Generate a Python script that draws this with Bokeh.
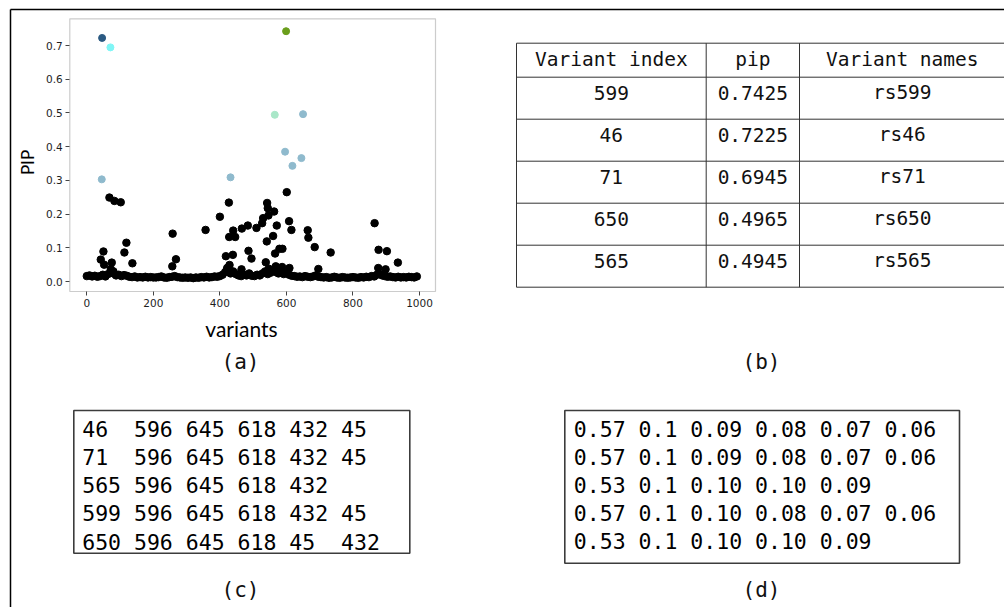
import math
from bokeh.plotting import figure
from bokeh.models import Range1d, LinearAxis, FixedTicker, PrintfTickFormatter, BoxAnnotation
from bokeh.core.properties import value
from bokeh.embed import file_html
from bokeh.resources import INLINE

# ---------------- data ----------------
# baseline band of PIPs, one value per every 8th variant (0, 8, ..., 992)
base_step = 8
base_values = [
    0.016, 0.018, 0.015, 0.017, 0.014, 0.016,
    0.020, 0.015, 0.022, 0.028, 0.024, 0.018, 0.020, 0.016, 0.019, 0.017,
    0.014, 0.013, 0.015, 0.012, 0.013, 0.012, 0.014, 0.012, 0.013, 0.012,
    0.012, 0.013, 0.015, 0.012, 0.011, 0.013, 0.014, 0.016, 0.013, 0.012, 0.011, 0.012,
    0.011, 0.012, 0.010, 0.012, 0.011, 0.013, 0.012, 0.014, 0.012, 0.013, 0.015, 0.014, 0.016,
    0.020, 0.028, 0.040, 0.024, 0.030, 0.022, 0.018, 0.016, 0.020, 0.018, 0.024, 0.017, 0.016,
    0.020, 0.018, 0.024, 0.030, 0.022, 0.026, 0.035, 0.028, 0.024, 0.030, 0.022, 0.025,
    0.020, 0.017, 0.016, 0.014, 0.015, 0.013, 0.016, 0.014, 0.013, 0.015, 0.018, 0.014, 0.013,
    0.012, 0.013, 0.011, 0.012, 0.014, 0.012, 0.011, 0.013, 0.012, 0.011, 0.012, 0.013,
    0.012, 0.011, 0.013, 0.012, 0.014, 0.013, 0.016, 0.015, 0.020, 0.022, 0.018, 0.016,
    0.014, 0.015, 0.013, 0.012, 0.014, 0.012, 0.013, 0.012, 0.014, 0.013, 0.012, 0.015,
]
base_idx = list(range(0, base_step * len(base_values), base_step))

# variants that stand out from the band (black)
outlier_idx = [68, 83, 102, 50, 42, 52, 75, 72, 80, 119, 113, 137,
               258, 257, 268, 357, 400, 427, 428, 440, 446, 418, 439, 429, 422,
               466, 484, 486, 495, 465, 510, 530, 527, 542, 544, 546, 563, 541,
               560, 571, 538, 566, 579, 588, 547, 568, 587, 609, 601, 608, 615,
               664, 666, 685, 696, 733, 865, 877, 876, 902, 898, 935]
outlier_pip = [0.249, 0.239, 0.235, 0.089, 0.065, 0.050, 0.056, 0.037, 0.030, 0.115, 0.086, 0.054,
               0.142, 0.045, 0.066, 0.153, 0.192, 0.234, 0.132, 0.151, 0.132, 0.075, 0.079, 0.049, 0.040,
               0.157, 0.166, 0.091, 0.068, 0.036, 0.159, 0.188, 0.173, 0.233, 0.2175, 0.196, 0.2076, 0.119,
               0.135, 0.166, 0.057, 0.083, 0.097, 0.097, 0.038, 0.045, 0.043, 0.040, 0.265, 0.179, 0.153,
               0.152, 0.130, 0.102, 0.037, 0.086, 0.173, 0.094, 0.040, 0.090, 0.036, 0.056]

# credible-set members (light blue)
cs_idx = [596, 645, 618, 432, 45]
cs_pip = [0.385, 0.366, 0.343, 0.309, 0.303]

# lead variants
lead_idx = [46, 71, 599, 565, 650]
lead_pip = [0.7225, 0.6945, 0.7425, 0.4945, 0.4965]
lead_colors = ["#2b5a82", "#80f6f6", "#6a9e1c", "#a9e7c8", "#8fbacd"]
cs_color = "#8fbacd"

x_ticks = [0, 200, 400, 600, 800, 1000]
y_ticks = [0.0, 0.1, 0.2, 0.3, 0.4, 0.5, 0.6, 0.7]

table_header = ["Variant index", "pip", "Variant names"]
table_index = ["599", "46", "71", "650", "565"]
table_pip = ["0.7425", "0.7225", "0.6945", "0.4965", "0.4945"]
table_names = ["rs599", "rs46", "rs71", "rs650", "rs565"]

cs_rows = [["46", "596", "645", "618", "432", "45"],
           ["71", "596", "645", "618", "432", "45"],
           ["565", "596", "645", "618", "432"],
           ["599", "596", "645", "618", "432", "45"],
           ["650", "596", "645", "618", "45", "432"]]
prob_rows = [["0.57", "0.1", "0.09", "0.08", "0.07", "0.06"],
             ["0.57", "0.1", "0.09", "0.08", "0.07", "0.06"],
             ["0.53", "0.1", "0.10", "0.10", "0.09"],
             ["0.57", "0.1", "0.10", "0.08", "0.07", "0.06"],
             ["0.53", "0.1", "0.10", "0.10", "0.09"]]
captions = ["(a)", "(b)", "(c)", "(d)"]

# ---------------- layout (pixels) ----------------
W, H = 1004, 607
X0, KX = 86.3, 0.3327      # pixel of variant 0, px per variant
Y0, KY = 281.0, 337.1      # pixel of PIP 0, px per PIP unit
FL, FR, FT, FB = 69.3, 435.0, 18.3, 291.0   # scatter frame box

p = figure(width=W, height=H, x_range=Range1d(0, W), y_range=Range1d(H, 0),
           x_axis_type=None, y_axis_type=None, toolbar_location=None,
           output_backend="svg", min_border=0, outline_line_color=None,
           background_fill_color="white", border_fill_color="white")

p.extra_x_ranges = {"sx": Range1d((0 - X0) / KX, (W - X0) / KX)}
p.extra_y_ranges = {"sy": Range1d((Y0 - H) / KY, Y0 / KY)}
x_lo, x_hi = (FL - X0) / KX, (FR - X0) / KX
y_lo, y_hi = (Y0 - FB) / KY, (Y0 - FT) / KY

# outer frame
p.segment(x0=[10, 10], y0=[9, 9], x1=[W + 2, 10], y1=[9, H + 2], line_color="black", line_width=1.5)

# scatter (a)
p.scatter(base_idx, base_values, size=7.5, color="black", x_range_name="sx", y_range_name="sy")
p.scatter(outlier_idx, outlier_pip, size=7.5, color="black", x_range_name="sx", y_range_name="sy")
p.scatter(cs_idx, cs_pip, size=7, color=cs_color, x_range_name="sx", y_range_name="sy")
p.scatter(lead_idx, lead_pip, size=7, color=lead_colors, x_range_name="sx", y_range_name="sy")

p.add_layout(BoxAnnotation(left=x_lo, right=x_hi, bottom=y_lo, top=y_hi,
                           x_range_name="sx", y_range_name="sy",
                           fill_alpha=0, line_color="#555555", line_width=1.2))

xa = LinearAxis(x_range_name="sx", y_range_name="sy", fixed_location=y_lo, bounds=(x_lo, x_hi),
                ticker=FixedTicker(ticks=x_ticks), formatter=PrintfTickFormatter(format="%d"))
ya = LinearAxis(x_range_name="sx", y_range_name="sy", fixed_location=x_lo, bounds=(y_lo, y_hi),
                ticker=FixedTicker(ticks=y_ticks), formatter=PrintfTickFormatter(format="%.1f"))
for ax in (xa, ya):
    ax.axis_line_color = None
    ax.major_tick_in = 0
    ax.major_tick_out = 4
    ax.major_tick_line_color = "#444444"
    ax.minor_tick_line_color = None
    ax.major_label_text_font = "DejaVu Sans"
    ax.major_label_text_font_size = "10.5px"
    ax.major_label_text_color = "#1e1e1e"
    ax.major_label_standoff = 3
p.add_layout(xa, "below")
p.add_layout(ya, "left")

p.text(x=[241], y=[328], text=["variants"], text_font=value("Lato"), text_font_size="21px",
       text_align="center", text_baseline="alphabetic", text_color="black")
p.text(x=[27], y=[162], text=["PIP"], text_font=value("Lato"), text_font_size="17px",
       text_align="center", text_baseline="middle", angle=math.pi / 2, text_color="black")

# table (b)
col_x = [516.0, 705.7, 799.0]
tab_right = 1004.5
row_y = [42.7, 76.7, 118.7, 160.7, 202.7, 244.7, 286.7]
p.segment(x0=[col_x[0]] * len(row_y), y0=row_y, x1=[tab_right] * len(row_y), y1=row_y,
          line_color="#333333", line_width=1)
p.segment(x0=col_x, y0=[row_y[0]] * 3, x1=col_x, y1=[row_y[-1]] * 3,
          line_color="#333333", line_width=1)
col_c = [(col_x[0] + col_x[1]) / 2, (col_x[1] + col_x[2]) / 2, (col_x[2] + tab_right) / 2]
mono = value("DejaVu Sans Mono")
p.text(x=col_c, y=[(row_y[0] + row_y[1]) / 2 - 1] * 3, text=table_header, text_font=mono,
       text_font_size="19.5px", text_align="center", text_baseline="middle", text_color="#111111")
for j, col in enumerate([table_index, table_pip, table_names]):
    p.text(x=[col_c[j]] * len(col), y=[row_y[i + 1] + 15.5 for i in range(len(col))], text=col,
           text_font=mono, text_font_size="19.5px", text_align="center", text_baseline="middle",
           text_color="#111111")

# boxes (c) and (d)
def lines_of(rows, pad):
    out = []
    for r in rows:
        s = " ".join(t.ljust(pad) for t in r).rstrip()
        out.append(s.replace(" ", "\u00a0"))
    return out

c_lines = lines_of(cs_rows, 3)
d_lines = lines_of(prob_rows, 0)
p.quad(left=[73.3, 564.3], right=[409.3, 959.0], top=[410.0, 410.0], bottom=[552.7, 562.7],
       fill_color=None, line_color="#3c3c3c", line_width=1.6)
p.text(x=[81.7] * 5, y=[428.5 + 28.3 * i for i in range(5)], text=c_lines, text_font=mono,
       text_font_size="21.5px", text_align="left", text_baseline="middle", text_color="black")
p.text(x=[573.3] * 5, y=[428.5 + 28.2 * i for i in range(5)], text=d_lines, text_font=mono,
       text_font_size="21.5px", text_align="left", text_baseline="middle", text_color="black")

# captions
p.text(x=[240, 761, 240, 761], y=[361, 361, 589, 589], text=captions, text_font=mono,
       text_font_size="21px", text_align="center", text_baseline="middle", text_color="#111111")

open("out.html", "w").write(file_html(p, INLINE))
